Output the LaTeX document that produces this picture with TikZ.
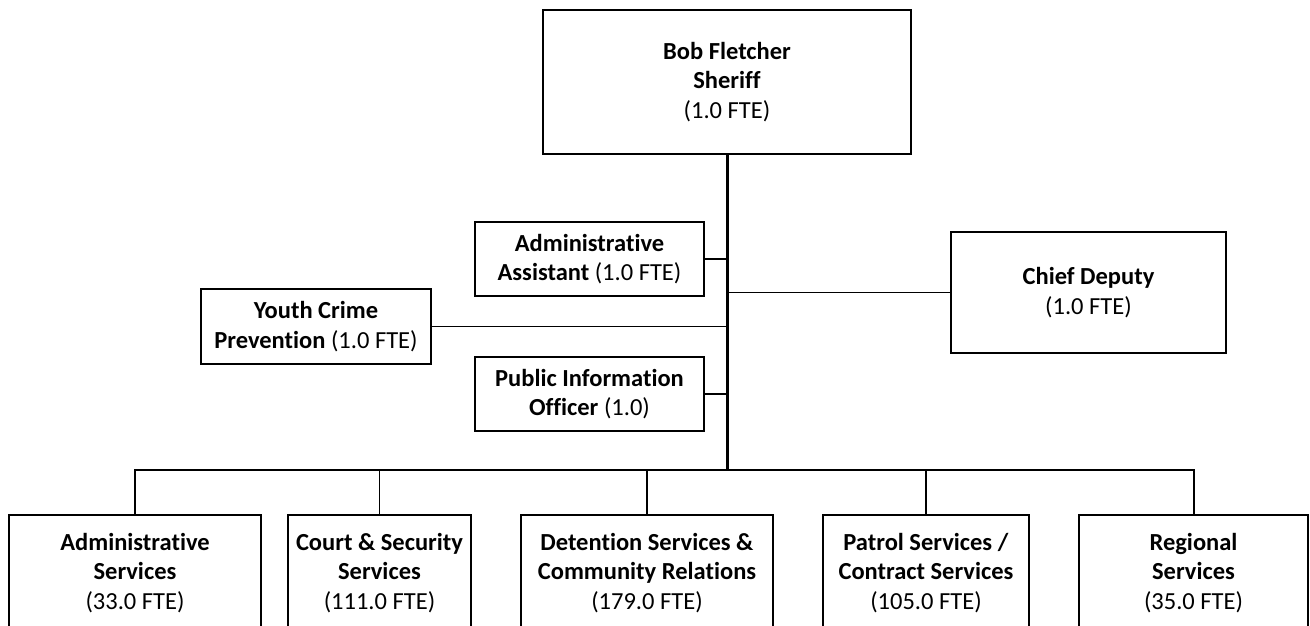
\documentclass[tikz,border=0pt]{standalone}
\usepackage{fontspec}
\setmainfont{Carlito}[Ligatures=NoCommon]

\begin{document}
\begin{tikzpicture}[x=1pt, y=-1pt,
    box/.style={draw, line width=1.6pt, align=center, inner sep=0pt,
      font=\fontsize{24.5}{29.5}\selectfont},
    unit/.style={box, minimum height=116pt}]

    \clip (0,0) rectangle (1310,626);

    \node[box, minimum width=368pt, minimum height=144pt] (sheriff) at (727,82)
      {\textbf{Bob Fletcher}\\\textbf{Sheriff}\\(1.0 FTE)};
    \node[box, minimum width=229pt, minimum height=74pt] (assist) at (589.5,259)
      {\textbf{Administrative}\\\textbf{Assistant} (1.0 FTE)};
    \node[box, minimum width=275pt, minimum height=121pt] (chief) at (1088.5,292.5)
      {\textbf{Chief Deputy}\\(1.0 FTE)};
    \node[box, minimum width=230pt, minimum height=75pt] (youth) at (316,326.5)
      {\textbf{Youth Crime}\\\textbf{Prevention} (1.0 FTE)};
    \node[box, minimum width=229pt, minimum height=74pt] (pio) at (589.5,394)
      {\textbf{Public Information}\\\textbf{Officer} (1.0)};

    \node[unit, minimum width=252pt] (adm) at (135,573)
      {\textbf{Administrative}\\\textbf{Services}\\(33.0 FTE)};
    \node[unit, minimum width=183pt] (court) at (379.5,573)
      {\textbf{Court \& Security}\\\textbf{Services}\\(111.0 FTE)};
    \node[unit, minimum width=252pt] (det) at (647,573)
      {\textbf{Detention Services \&}\\\textbf{Community Relations}\\(179.0 FTE)};
    \node[unit, minimum width=206pt] (patrol) at (926,573)
      {\textbf{Patrol Services /}\\\textbf{Contract Services}\\(105.0 FTE)};
    \node[unit, minimum width=229pt] (reg) at (1193.5,573)
      {\textbf{Regional}\\\textbf{Services}\\(35.0 FTE)};

    \coordinate (bar) at (727,470);

    \draw [line width=3pt] (sheriff.south) -- (bar);
    \draw [line width=1.6pt] (assist.east) -- (assist.east -| bar);
    \draw [line width=1.6pt] (chief.west) -- (chief.west -| bar);
    \draw [line width=1.6pt] (youth.east) -- (youth.east -| bar);
    \draw [line width=1.6pt] (pio.east) -- (pio.east -| bar);

    \draw [line width=2pt] (adm.north) |- (bar) -| (reg.north);
    \draw [line width=1.6pt] (court.north) -- (court.north |- bar);
    \draw [line width=1.6pt] (det.north) -- (det.north |- bar);
    \draw [line width=1.6pt] (patrol.north) -- (patrol.north |- bar);

  \end{tikzpicture}
\end{document}
